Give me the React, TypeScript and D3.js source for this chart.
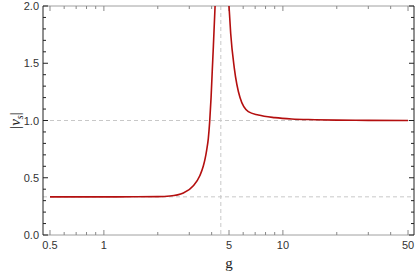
import * as d3 from 'd3';

// |v_s|, two branches around the pole near g = 4.5
const leftG = [0.5, 1, 1.5, 2, 2.34, 2.78, 3.16, 3.44, 3.59, 3.67, 3.75, 3.83, 3.9, 3.97, 4.03, 4.09, 4.18];
const leftV = [0.333, 0.333, 0.334, 0.335, 0.34, 0.366, 0.43, 0.52, 0.6, 0.66, 0.74, 0.84, 0.99, 1.2, 1.43, 1.65, 2.0];
const rightG = [5.0, 5.11, 5.35, 5.76, 6.41, 7.29, 9.03, 11.2, 15.1, 20, 30, 50];
const rightV = [2.0, 1.76, 1.46, 1.2, 1.077, 1.048, 1.025, 1.013, 1.007, 1.003, 1.001, 1.0];

const refH = [1.0, 1 / 3];
const refG = 4.5;

const xMajor = [0.5, 1, 5, 10, 50];
const xMinor = [0.6, 0.7, 0.8, 0.9, 2, 3, 4, 6, 7, 8, 9, 20, 30, 40];
const yMajor = [0, 0.5, 1, 1.5, 2];
const yMinor = d3.range(0, 21).map(i => i / 10).filter(v => Math.round(v * 10) % 5 !== 0);

export default function App() {
  const W = 415, H = 276;
  const L = 43, R = 414, T = 6, B = 235;

  const x = d3.scaleLog().domain([0.457, 54]).range([L, R]);
  const y = d3.scaleLinear().domain([0, 2]).range([B, T]);

  const line = d3.line<[number, number]>()
    .x(d => x(d[0]))
    .y(d => y(d[1]))
    .curve(d3.curveMonotoneX);

  const left = leftG.map((g, i) => [g, leftV[i]] as [number, number]);
  const right = rightG.map((g, i) => [g, rightV[i]] as [number, number]);

  const lab = { fontFamily: "'Liberation Sans', Arial, sans-serif", fontSize: 11, fill: '#333' };
  const dash = { stroke: '#c8c8c8', strokeWidth: 1, strokeDasharray: '4,3' };
  const serif = "'Liberation Serif', 'Times New Roman', serif";

  return (
    <svg width={W} height={H} style={{ position: 'absolute', left: 0, top: 0 }}>
      <rect width={W} height={H} fill="#fff" />

      {/* dashed guide lines */}
      {refH.map((v, i) => (
        <line key={'h' + i} x1={L} x2={R} y1={y(v)} y2={y(v)} {...dash} />
      ))}
      <line x1={x(refG)} x2={x(refG)} y1={T} y2={B} {...dash} />

      {/* frame */}
      <line x1={L} x2={R} y1={T} y2={T} stroke="#a0a0a0" />
      <line x1={L} x2={R} y1={B} y2={B} stroke="#a0a0a0" />
      <line x1={L} x2={L} y1={T} y2={B} stroke="#222" />
      <line x1={R} x2={R} y1={T} y2={B} stroke="#222" />

      {/* x ticks, bottom and top */}
      {xMajor.map(v => (
        <g key={'xm' + v}>
          <line x1={x(v)} x2={x(v)} y1={B} y2={B - 5} stroke="#888" />
          <line x1={x(v)} x2={x(v)} y1={T} y2={T + 5} stroke="#888" />
          <text x={x(v)} y={B + 14} textAnchor="middle" {...lab}>{v}</text>
        </g>
      ))}
      {xMinor.map(v => (
        <g key={'xn' + v}>
          <line x1={x(v)} x2={x(v)} y1={B} y2={B - 3} stroke="#888" />
          <line x1={x(v)} x2={x(v)} y1={T} y2={T + 3} stroke="#888" />
        </g>
      ))}

      {/* y ticks, left and right */}
      {yMajor.map(v => (
        <g key={'ym' + v}>
          <line x1={L} x2={L + 5} y1={y(v)} y2={y(v)} stroke="#222" />
          <line x1={R} x2={R - 5} y1={y(v)} y2={y(v)} stroke="#222" />
          <text x={L - 4} y={y(v) + 4} textAnchor="end" {...lab}>{v.toFixed(1)}</text>
        </g>
      ))}
      {yMinor.map(v => (
        <g key={'yn' + v}>
          <line x1={L} x2={L + 3} y1={y(v)} y2={y(v)} stroke="#222" />
          <line x1={R} x2={R - 3} y1={y(v)} y2={y(v)} stroke="#222" />
        </g>
      ))}

      {/* curve */}
      <path d={line(left) ?? ''} fill="none" stroke="#b40f0f" strokeWidth={1.6} />
      <path d={line(right) ?? ''} fill="none" stroke="#b40f0f" strokeWidth={1.6} />

      {/* axis titles */}
      <text x={x(5)} y={268} textAnchor="middle" fontFamily={serif} fontSize={15} fill="#222">g</text>
      <text transform={`translate(20,${y(1)}) rotate(-90)`} textAnchor="middle" fontFamily={serif} fontSize={15} fill="#222">
        |<tspan fontStyle="italic">v</tspan><tspan fontStyle="italic" fontSize={10} dy={3}>s</tspan><tspan dy={-3}>|</tspan>
      </text>
    </svg>
  );
}
